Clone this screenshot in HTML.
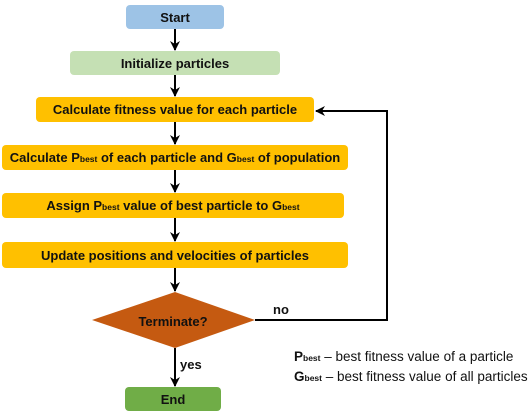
<!DOCTYPE html>
<html><head><meta charset="utf-8"><style>
html,body{margin:0;padding:0;background:#fff;}
svg{display:block;}
text{font-family:"Liberation Sans",sans-serif;font-weight:bold;font-size:13px;fill:#111;}
.s{font-size:8.5px;}
.n{font-weight:normal;font-size:13.5px;}
</style></head><body>
<svg width="528" height="414" viewBox="0 0 528 414" xmlns="http://www.w3.org/2000/svg">
<defs><marker id="a" markerWidth="10" markerHeight="10" refX="9" refY="5" orient="auto" markerUnits="userSpaceOnUse"><path d="M0,0 L10,5 L0,10 L3,5 Z" fill="#000"/></marker></defs>
<rect x="126" y="5" width="98" height="24" rx="4" fill="#9dc3e6"/>
<text x="175" y="22" text-anchor="middle">Start</text>
<rect x="70" y="51" width="210" height="24" rx="4" fill="#c5e0b4"/>
<text x="175" y="68" text-anchor="middle">Initialize particles</text>
<rect x="36" y="97" width="278" height="25" rx="4" fill="#ffc000"/>
<text x="175" y="114" text-anchor="middle">Calculate fitness value for each particle</text>
<rect x="2" y="145" width="346" height="25" rx="4" fill="#ffc000"/>
<text x="175" y="162" text-anchor="middle">Calculate P<tspan class="s">best</tspan> of each particle and G<tspan class="s">best</tspan> of population</text>
<rect x="2" y="193" width="342" height="25" rx="4" fill="#ffc000"/>
<text x="173" y="210" text-anchor="middle">Assign P<tspan class="s">best</tspan> value of best particle to G<tspan class="s">best</tspan></text>
<rect x="2" y="242" width="346" height="26" rx="4" fill="#ffc000"/>
<text x="175" y="260" text-anchor="middle">Update positions and velocities of particles</text>
<polygon points="92,320 175,292 255,320 175,348" fill="#c55a11"/>
<text x="173" y="326" text-anchor="middle">Terminate?</text>
<rect x="125" y="387" width="96" height="24" rx="4" fill="#70ad47"/>
<text x="173" y="404" text-anchor="middle">End</text>
<g stroke="#000" stroke-width="2" fill="none">
<line x1="175" y1="29" x2="175" y2="50" marker-end="url(#a)"/>
<line x1="175" y1="75" x2="175" y2="96" marker-end="url(#a)"/>
<line x1="175" y1="122" x2="175" y2="144" marker-end="url(#a)"/>
<line x1="175" y1="170" x2="175" y2="192" marker-end="url(#a)"/>
<line x1="175" y1="218" x2="175" y2="241" marker-end="url(#a)"/>
<line x1="175" y1="268" x2="175" y2="291" marker-end="url(#a)"/>
<line x1="175" y1="348" x2="175" y2="386" marker-end="url(#a)"/>
<polyline points="255,320 387,320 387,111 316,111" marker-end="url(#a)"/>
</g>
<text x="273" y="314">no</text>
<text x="180" y="369">yes</text>
<text x="294" y="361" class="n"><tspan font-weight="bold">P</tspan><tspan class="s" font-weight="bold">best</tspan> – best fitness value of a particle</text>
<text x="294" y="381" class="n"><tspan font-weight="bold">G</tspan><tspan class="s" font-weight="bold">best</tspan> – best fitness value of all particles</text>
</svg>
</body></html>
